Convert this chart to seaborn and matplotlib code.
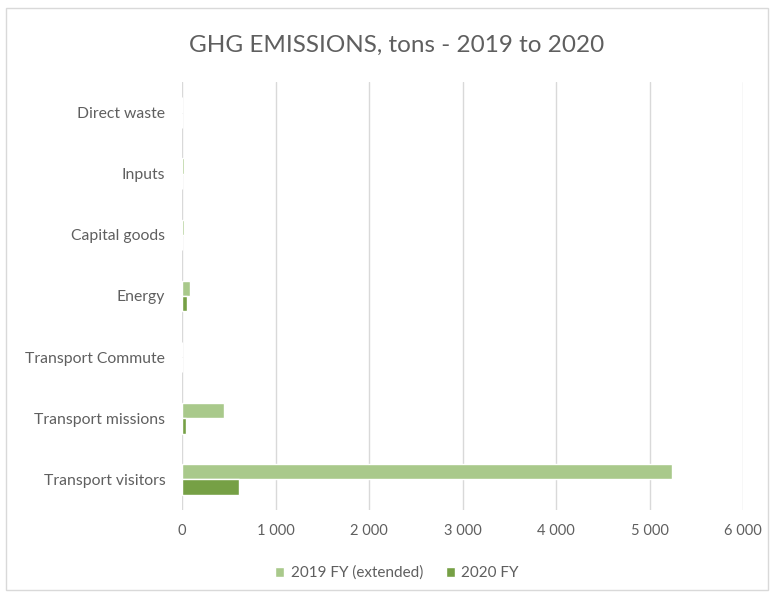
import matplotlib
matplotlib.use("Agg")
import matplotlib.pyplot as plt
from matplotlib.ticker import FuncFormatter
from matplotlib.patches import Rectangle
import seaborn as sns
import pandas as pd

categories = ["Direct waste", "Inputs", "Capital goods", "Energy",
              "Transport Commute", "Transport missions", "Transport visitors"]
fy2019 = [0, 20, 20, 90, 0, 447, 5240]
fy2020 = [0, 5, 5, 55, 0, 38, 614]
series = ["2019 FY (extended)", "2020 FY"]
colors = ["#A9C98B", "#76A045"]

df = pd.DataFrame({
    "category": categories * 2,
    "value": fy2019 + fy2020,
    "series": [series[0]] * len(categories) + [series[1]] * len(categories),
})

sns.set_theme(style="white")
plt.rcParams["font.family"] = ["Lato", "DejaVu Sans"]
text_color = "#5F5F5F"

fig = plt.figure(figsize=(7.74, 5.95), dpi=100)
ax = fig.add_axes([182 / 774, 1 - 510 / 595, (743 - 182) / 774, (510 - 82) / 595])

sns.barplot(data=df, y="category", x="value", hue="series", order=categories,
            hue_order=series, palette=colors, orient="h", width=0.5,
            saturation=1, ax=ax, legend=True)

ax.set_xlim(0, 6000)
ax.set_xticks(range(0, 6001, 1000))
ax.xaxis.set_major_formatter(FuncFormatter(lambda v, p: f"{int(v):,}".replace(",", " ")))
ax.grid(axis="x", color="#D9D9D9", linewidth=1)
ax.set_axisbelow(True)
for s in ax.spines.values():
    s.set_visible(False)
ax.set_xlabel("")
ax.set_ylabel("")
ax.tick_params(axis="x", length=0, labelsize=10.5, colors=text_color, pad=10)
ax.tick_params(axis="y", length=0, labelsize=11.3, colors=text_color, pad=12)

fig.text(397 / 774, 1 - 45 / 595, "GHG EMISSIONS, tons - 2019 to 2020",
         ha="center", va="center", fontsize=17.5, color=text_color)

handles, labels = ax.get_legend_handles_labels()
ax.legend_.remove()
fig.legend(handles, labels, loc="center", bbox_to_anchor=(397 / 774, 1 - 573 / 595),
           ncol=2, frameon=False, fontsize=11, handlelength=0.6, handleheight=0.6,
           columnspacing=1.5, handletextpad=0.4, labelcolor=text_color)

fig.patches.append(Rectangle((6 / 774, 1 - 590 / 595), 762 / 774, 582 / 595,
                             transform=fig.transFigure, fill=False,
                             edgecolor="#D9D9D9", linewidth=1))

fig.savefig("out.png", dpi=100)
